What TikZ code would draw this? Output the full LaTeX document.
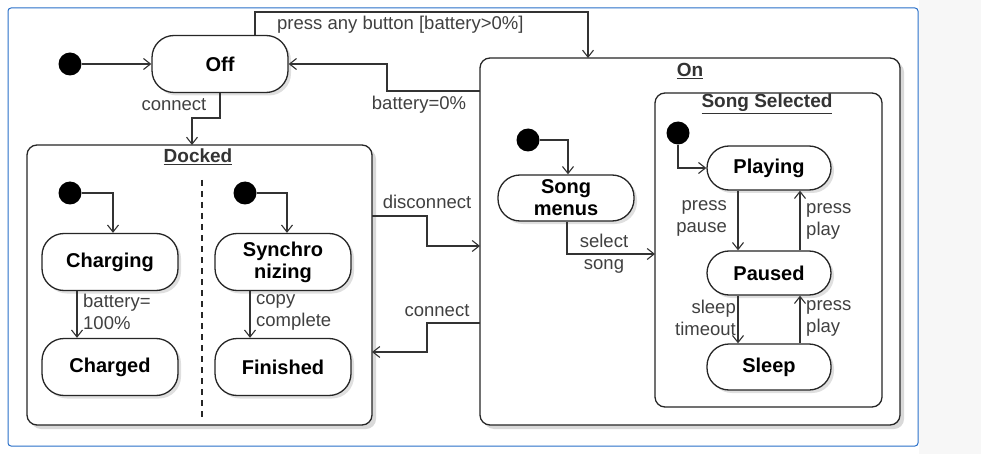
\documentclass[tikz,border=0pt]{standalone}
\usepackage{fontspec}
\setmainfont{Liberation Sans}
\usetikzlibrary{arrows.meta,shadows}
\begin{document}
\begin{tikzpicture}[x=1pt,y=-1pt,
  st/.style={draw=black!85,line width=1.3pt,rounded corners=22pt,fill=white,minimum width=136pt,minimum height=57pt,font=\fontsize{20}{22}\selectfont\bfseries,align=center,inner sep=0pt,drop shadow={shadow xshift=3pt,shadow yshift=-3pt,opacity=0.25}},
  sst/.style={st,minimum width=124pt,minimum height=44pt},
  box/.style={draw=black!85,line width=1.3pt,rounded corners=10pt,fill=white,drop shadow={shadow xshift=4pt,shadow yshift=-4pt,opacity=0.3}},
  ini/.style={circle,fill=black,minimum size=23pt,inner sep=0pt},
  tr/.style={draw=black!80,line width=1.1pt,-{Straight Barb[length=7pt,width=11pt,line width=1.1pt]}},
  lb/.style={font=\fontsize{18.5}{22}\selectfont,text=black!75,inner sep=1pt,align=left},
  ttl/.style={font=\fontsize{19}{20}\selectfont\bfseries,text=black!80}]
\useasboundingbox (0,0) rectangle (981,454);
\fill[black!3] (919,0) rectangle (981,454);
\draw[draw={rgb,255:red,40;green,110;blue,200},line width=1pt,rounded corners=3pt] (8,8) rectangle (918,446);
% containers
\draw[box] (27,145) rectangle (372,425);
\draw[box] (480,58) rectangle (900,425);
\draw[draw=black!85,line width=1.3pt,rounded corners=10pt,fill=white] (655,93) rectangle (882,407);
\node[ttl] (tdock) at (198,157) {\underline{Docked}};
\node[ttl] (ton) at (690,71) {\underline{On}};
\node[ttl] (tss) at (767,104) {\underline{Song Selected}};
\draw[black!85,line width=1.2pt,dash pattern=on 6pt off 5pt] (202,180) -- (202,420);
% states
\node[st] (off) at (220,64) {Off};
\node[ini] (i0) at (70,64) {};
\node[ini] (i1) at (70,193) {};
\node[ini] (i2) at (245,193) {};
\node[ini] (i3) at (528,140) {};
\node[ini] (i4) at (678,133) {};
\node[st] (charging) at (110,262) {Charging};
\node[st] (charged) at (110,367) {Charged};
\node[st] (sync) at (283,262) {Synchro\\nizing};
\node[st] (fin) at (283,367) {Finished};
\node[st,minimum height=46pt] (menus) at (566,198) {Song\\menus};
\node[sst] (play) at (769,168) {Playing};
\node[sst] (paused) at (769,273) {Paused};
\node[sst,minimum height=46pt] (sleep) at (769,367) {Sleep};
% coordinates
\coordinate (onA) at (588,58);
\coordinate (onB) at (480,91);
\coordinate (onC) at (480,246);
\coordinate (onD) at (480,323);
\coordinate (dkT) at (192,145);
\coordinate (dkR1) at (372,216);
\coordinate (dkR2) at (372,352);
\coordinate (ssL) at (655,254);
% transitions
\draw[tr] (i0) -- (off);
\draw[tr] (off.north -| 255,0) |- (420,12) -| (onA);
\node[lb,anchor=west] (lpress) at (276,25) {press any button [battery>0\%]};
\draw[tr] (onB) -- (387,91) |- (off.east);
\node[lb] (lbat) at (419,105) {battery=0\%};
\draw[tr] (off.south) |- (206,118) -| (dkT);
\node[lb] (lcon1) at (174,105) {connect};
\draw[tr] (i1) -| (charging.north -| 113,0);
\draw[tr] (i2) -| (sync.north -| 287,0);
\draw[tr] (charging.south -| 77,0) -- (charged.north -| 77,0);
\node[lb,anchor=west] (lb100) at (82,312) {battery=\\100\%};
\draw[tr] (sync.south -| 250,0) -- (fin.north -| 250,0);
\node[lb,anchor=west] (lcopy) at (255,312) {copy\\complete};
\draw[tr] (dkR1) -- (427,216) |- (onC);
\node[lb] (ldis) at (427,202) {disconnect};
\draw[tr] (onD) -- (427,323) |- (dkR2);
\node[lb] (lcon2) at (437,311) {connect};
\draw[tr] (i3) -| (menus.north -| 568,0);
\draw[tr] (menus.south -| 567,0) |- (ssL);
\node[lb,align=center] (lsel) at (604,254) {select\\song};
\draw[tr] (i4) |- (play.west);
\draw[tr] (play.south -| 738,0) -- (paused.north -| 738,0);
\node[lb,anchor=east,align=right] (lpp) at (728,218) {press\\pause};
\draw[tr] (paused.north -| 800,0) -- (play.south -| 800,0);
\node[lb,anchor=west] (lpl1) at (805,221) {press\\play};
\draw[tr] (paused.south -| 738,0) -- (sleep.north -| 738,0);
\node[lb,anchor=east,align=right] (lst) at (737,318) {sleep\\timeout};
\draw[tr] (sleep.north -| 800,0) -- (paused.south -| 800,0);
\node[lb,anchor=west] (lpl2) at (805,318) {press\\play};
\end{tikzpicture}
\end{document}
